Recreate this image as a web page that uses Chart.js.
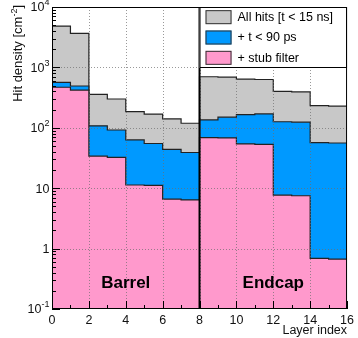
<!DOCTYPE html>
<html lang="en">
<head>
    <meta charset="UTF-8">
    <title>Hit density per layer</title>
    <script src="https://cdn.jsdelivr.net/npm/chart.js@4.4.1/dist/chart.umd.min.js"></script>
    <style>
        html, body { margin: 0; padding: 0; background: #ffffff; }
        .wrap { width: 358px; height: 338px; position: relative; }
    </style>
</head>
<body>
    <div class="wrap"><canvas id="hits"></canvas></div>

    <script>
        // layer index (one bin per layer, bin i spans [i, i+1])
        const layerIndex = [0, 1, 2, 3, 4, 5, 6, 7, 8, 9, 10, 11, 12, 13, 14, 15];

        // hit densities [cm^-2]
        const allHits    = [4840, 3660, 358, 300, 185, 169, 140, 119, 700, 690, 640, 630, 400, 392, 232, 228];
        const timeCut    = [566, 492, 108, 92, 63, 55, 44, 39, 135, 150, 165, 170, 126, 124, 57, 56];
        const stubFilter = [469, 422, 34, 32.5, 11.3, 11.1, 6.6, 6.4, 68.6, 68, 54, 53, 7.7, 7.5, 0.69, 0.67];

        const seriesLabels = ['All hits [t < 15 ns]', '+ t < 90 ps', '+ stub filter'];
        const seriesColors = ['#c8c8c8', '#0099ff', '#ff99cc'];

        const xTickStep = 2;
        const yTickValues = [0.1, 1, 10, 100, 1000, 10000];
        const yTickLabels = ['10^-1', '1', '10', '10^2', '10^3', '10^4'];

        const regionEdges = [0, 8, 16];
        const regionLabels = ['Barrel', 'Endcap'];

        const FONT = '"Liberation Sans", Arial, Helvetica, sans-serif';

        function stepPoints(vals) {
            const pts = layerIndex.map((x, i) => ({ x: x, y: vals[i] }));
            pts.push({ x: layerIndex[layerIndex.length - 1] + 1, y: vals[vals.length - 1] });
            return pts;
        }

        // text with optional superscript part, e.g. "10^2"
        function drawRich(ctx, parts, x, y, align, size) {
            const supSize = Math.round(size * 0.7);
            let w = 0;
            parts.forEach(p => {
                ctx.font = (p.sup ? supSize : size) + 'px ' + FONT;
                p.w = ctx.measureText(p.t).width;
                w += p.w;
            });
            let cx = align === 'right' ? x - w : x;
            ctx.textAlign = 'left';
            parts.forEach(p => {
                ctx.font = (p.sup ? supSize : size) + 'px ' + FONT;
                ctx.fillText(p.t, cx, p.sup ? y - size * 0.42 : y);
                cx += p.w;
            });
        }

        function splitPow(label) {
            const s = label.split('^');
            return s.length > 1 ? [{ t: s[0] }, { t: s[1], sup: true }] : [{ t: s[0] }];
        }

        const decor = {
            id: 'decor',
            afterDatasetsDraw(chart) {
                const ctx = chart.ctx;
                const a = chart.chartArea;
                const xs = chart.scales.x, ys = chart.scales.y;
                ctx.save();

                // dotted grid on top of the fills
                ctx.strokeStyle = 'rgba(110,110,110,0.7)';
                ctx.lineWidth = 1;
                ctx.setLineDash([1, 2]);
                for (let v = xTickStep; v < 16; v += xTickStep) {
                    const px = Math.round(xs.getPixelForValue(v)) + 0.5;
                    ctx.beginPath(); ctx.moveTo(px, a.top); ctx.lineTo(px, a.bottom); ctx.stroke();
                }
                yTickValues.slice(1, -1).forEach(v => {
                    const py = Math.round(ys.getPixelForValue(v)) + 0.5;
                    ctx.beginPath(); ctx.moveTo(a.left, py); ctx.lineTo(a.right, py); ctx.stroke();
                });
                ctx.setLineDash([]);

                // barrel / endcap boundary
                ctx.strokeStyle = '#000';
                ctx.lineWidth = 2;
                const bx = xs.getPixelForValue(regionEdges[1]);
                ctx.beginPath(); ctx.moveTo(bx, a.top); ctx.lineTo(bx, a.bottom); ctx.stroke();

                // tick marks inside the frame
                ctx.lineWidth = 1;
                ctx.strokeStyle = '#000';
                for (let v = 0; v <= 16; v++) {
                    const px = Math.round(xs.getPixelForValue(v)) + 0.5;
                    const len = v % 2 === 0 ? 8 : 4;
                    ctx.beginPath(); ctx.moveTo(px, a.bottom); ctx.lineTo(px, a.bottom - len); ctx.stroke();
                }
                for (let d = -1; d < 4; d++) {
                    for (let m = 1; m <= 9; m++) {
                        const py = Math.round(ys.getPixelForValue(m * Math.pow(10, d))) + 0.5;
                        const len = m === 1 ? 8 : 4;
                        ctx.beginPath(); ctx.moveTo(a.left, py); ctx.lineTo(a.left + len, py); ctx.stroke();
                    }
                }

                // region labels
                ctx.fillStyle = '#000';
                ctx.font = 'bold 17px ' + FONT;
                ctx.textAlign = 'center';
                ctx.textBaseline = 'alphabetic';
                regionLabels.forEach((lab, i) => {
                    const cx = xs.getPixelForValue((regionEdges[i] + regionEdges[i + 1]) / 2);
                    ctx.fillText(lab, cx, a.bottom - 21);
                });

                // legend box
                const lx = xs.getPixelForValue(regionEdges[1]), ly = a.top, lw = a.right - lx, lh = 61;
                ctx.fillStyle = '#fff';
                ctx.fillRect(lx, ly, lw, lh);
                ctx.strokeStyle = '#000';
                ctx.lineWidth = 1;
                ctx.strokeRect(lx + 0.5, ly + 0.5, lw - 1, lh - 1);
                const rowH = lh / seriesLabels.length;
                seriesLabels.forEach((lab, i) => {
                    const cy = ly + rowH * (i + 0.5);
                    ctx.fillStyle = seriesColors[i];
                    ctx.fillRect(lx + 6, cy - 7, 26, 14);
                    ctx.strokeStyle = '#333';
                    ctx.strokeRect(lx + 6.5, cy - 6.5, 25, 13);
                    ctx.fillStyle = '#000';
                    ctx.font = '12.5px ' + FONT;
                    ctx.textAlign = 'left';
                    ctx.textBaseline = 'middle';
                    ctx.fillText(lab, lx + 38, cy + 0.5);
                });

                // frame
                ctx.strokeStyle = '#000';
                ctx.lineWidth = 1;
                ctx.strokeRect(a.left + 0.5, a.top + 0.5, a.right - a.left - 1, a.bottom - a.top - 1);

                // y tick labels with exponents
                ctx.fillStyle = '#111';
                ctx.textBaseline = 'middle';
                yTickValues.forEach((v, i) => {
                    const py = ys.getPixelForValue(v);
                    drawRich(ctx, splitPow(yTickLabels[i]), a.left - 2.5, py + 1, 'right', 12.5);
                });

                // axis titles
                ctx.textBaseline = 'alphabetic';
                ctx.font = '12.5px ' + FONT;
                ctx.textAlign = 'right';
                ctx.fillText('Layer index', a.right, 334);

                ctx.translate(22, a.top - 2);
                ctx.rotate(-Math.PI / 2);
                const title = [{ t: 'Hit density [cm' }, { t: '-2', sup: true }, { t: ']' }];
                drawRich(ctx, title, 0, 0, 'right', 13);
                ctx.restore();
            }
        };

        const sets = [allHits, timeCut, stubFilter].map((vals, i) => ({
            label: seriesLabels[i],
            data: stepPoints(vals),
            stepped: 'before',
            fill: 'start',
            backgroundColor: seriesColors[i],
            borderColor: '#222',
            borderWidth: 1.2,
            pointRadius: 0,
            order: 3 - i
        }));

        new Chart(document.getElementById('hits'), {
            type: 'line',
            data: { datasets: sets },
            options: {
                responsive: true,
                maintainAspectRatio: false,
                animation: false,
                events: [],
                layout: { padding: { left: 0, right: 8, top: 7, bottom: 0 } },
                plugins: { legend: { display: false }, tooltip: { enabled: false } },
                scales: {
                    x: {
                        type: 'linear',
                        min: 0,
                        max: 16,
                        grid: { display: false, drawTicks: false },
                        border: { display: false },
                        ticks: {
                            stepSize: xTickStep,
                            autoSkip: false,
                            maxRotation: 0,
                            padding: 4,
                            color: '#111',
                            font: { family: FONT, size: 12.5 }
                        },
                        afterFit(scale) { scale.height = 29; }
                    },
                    y: {
                        type: 'logarithmic',
                        min: yTickValues[0],
                        max: yTickValues[yTickValues.length - 1],
                        grid: { display: false, drawTicks: false },
                        border: { display: false },
                        ticks: { display: false },
                        afterBuildTicks(scale) { scale.ticks = yTickValues.map(v => ({ value: v })); },
                        afterFit(scale) { scale.width = 52; }
                    }
                }
            },
            plugins: [decor]
        });
    </script>
</body>
</html>
